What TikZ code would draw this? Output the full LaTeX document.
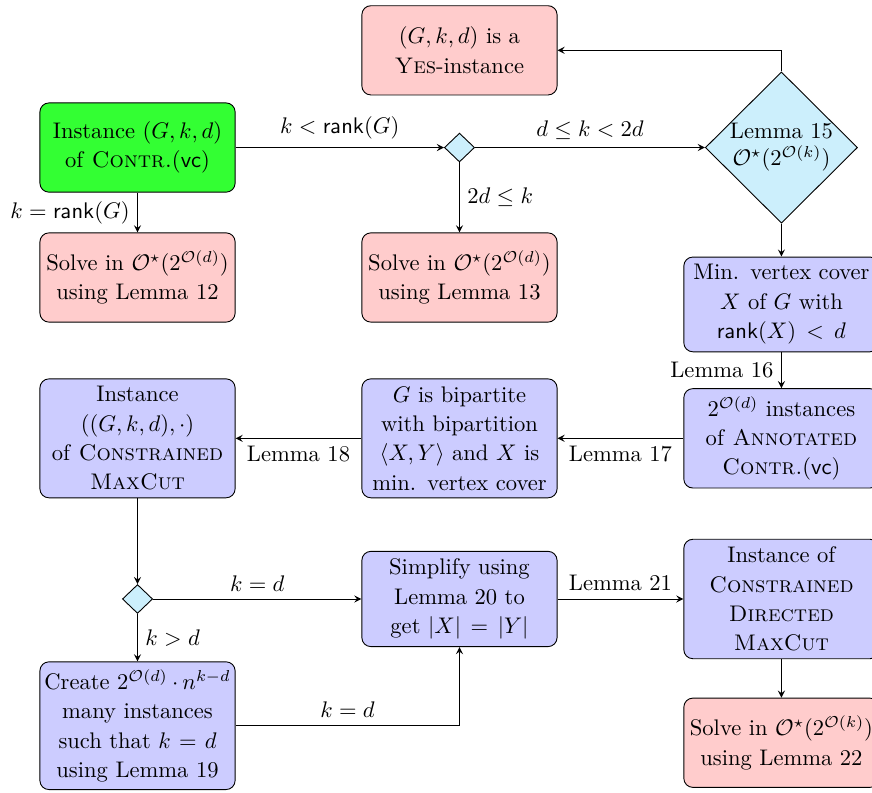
\documentclass[tikz,border=0pt]{standalone}
\usepackage{amsmath}
\usepackage{amssymb}
\usepackage{tikz}
\usetikzlibrary{positioning, calc}
\usetikzlibrary{arrows.meta, shapes.geometric}
\tikzstyle{basebox}=[rectangle,rounded corners,draw=black,text width=2.9cm,
inner xsep=2pt,inner ysep=3.33pt,minimum height=1.39cm,align=center,
font=\fontsize{10pt}{13pt}\selectfont]
\tikzstyle{startbox}=[basebox,fill=green!80]
\tikzstyle{solvebox}=[basebox,fill=red!20]
\tikzstyle{stepbox}=[basebox,fill=blue!20]
\tikzstyle{bigdec}=[diamond,draw=black,fill=cyan!20,inner sep=0pt,
minimum width=2.37cm,minimum height=2.34cm,align=center]
\tikzstyle{smalldec}=[diamond,draw=black,fill=cyan!20,inner sep=0pt,
minimum width=0.47cm,minimum height=0.45cm]
\tikzstyle{edgepath} = [-stealth,thin]

\begin{document}
\begin{tikzpicture}
    \useasboundingbox (-2.142,2.298) rectangle (11.44,-10.04);
    % top rows
    \node[startbox] (start) {Instance $(G,k,d)$ of \textsc{Contr.}$(\mathsf{vc})$};
    \node[solvebox, below=0.62cm of start] (solve12) {Solve in $\mathcal{O}^\star(2^{\mathcal{O}(d)})$ using Lemma 12};
    \node[solvebox, right=1.96cm of solve12] (solve13) {Solve in $\mathcal{O}^\star(2^{\mathcal{O}(d)})$ using Lemma 13};
    \node[smalldec] (dec1) at (start -| solve13) {};
    \node[solvebox, above=0.58cm of dec1] (yes) {$(G,k,d)$ is a \textsc{Yes}-instance};
    % middle rows
    \node[stepbox, below=0.87cm of solve12] (cmc) {Instance\\ $((G,k,d),\cdot)$\\ of \textsc{Constrained}\\ \textsc{MaxCut}};
    \node[stepbox, right=1.96cm of cmc] (bip) {$G$ is bipartite with bipartition $\langle X,Y\rangle$ and $X$ is min. vertex cover};
    \node[stepbox, right=1.96cm of bip] (annot) {$2^{\mathcal{O}(d)}$ instances of \textsc{Annotated Contr.}$(\mathsf{vc})$};
    \node[stepbox, above=0.56cm of annot] (mvc) {Min. vertex cover $X$ of $G$ with $\mathsf{rank}(X) < d$};
    \node[bigdec] (lem15) at (annot |- start) {Lemma 15\\ $\mathcal{O}^\star(2^{\mathcal{O}(k)})$};
    % bottom rows
    \node[stepbox, below=0.82cm of bip] (simp) {Simplify using Lemma 20 to get $|X| = |Y|$};
    \node[smalldec] (dec2) at (cmc |- simp) {};
    \node[stepbox, right=1.96cm of simp] (cdm) {Instance of\\ \textsc{Constrained}\\ \textsc{Directed}\\ \textsc{MaxCut}};
    \node[stepbox, below=0.74cm of dec2] (create) {Create $2^{\mathcal{O}(d)}\cdot n^{k-d}$ many instances such that $k = d$ using Lemma 19};
    \node[solvebox, below=0.6cm of cdm] (solve22) {Solve in $\mathcal{O}^\star(2^{\mathcal{O}(k)})$ using Lemma 22};

    \path[edgepath]
        (start) edge node[above] {$k < \mathsf{rank}(G)$} (dec1)
        (start) edge node[left] {$k = \mathsf{rank}(G)$} (solve12)
        (dec1) edge node[above] {$d \le k < 2d$} (lem15)
        (dec1) edge node[right] {$2d \le k$} (solve13)
        (lem15) edge (mvc)
        (mvc) edge node[left] {Lemma 16} (annot)
        (annot) edge node[below] {Lemma 17} (bip)
        (bip) edge node[below] {Lemma 18} (cmc)
        (cmc) edge (dec2)
        (dec2) edge node[above] {$k = d$} (simp)
        (dec2) edge node[right] {$k > d$} (create)
        (simp) edge node[above] {Lemma 21} (cdm)
        (cdm) edge (solve22);
    \draw[edgepath] (lem15.north) |- (yes.east);
    \draw[edgepath] (create) -| node[above, pos=0.25] {$k = d$} (simp);
\end{tikzpicture}
\end{document}
